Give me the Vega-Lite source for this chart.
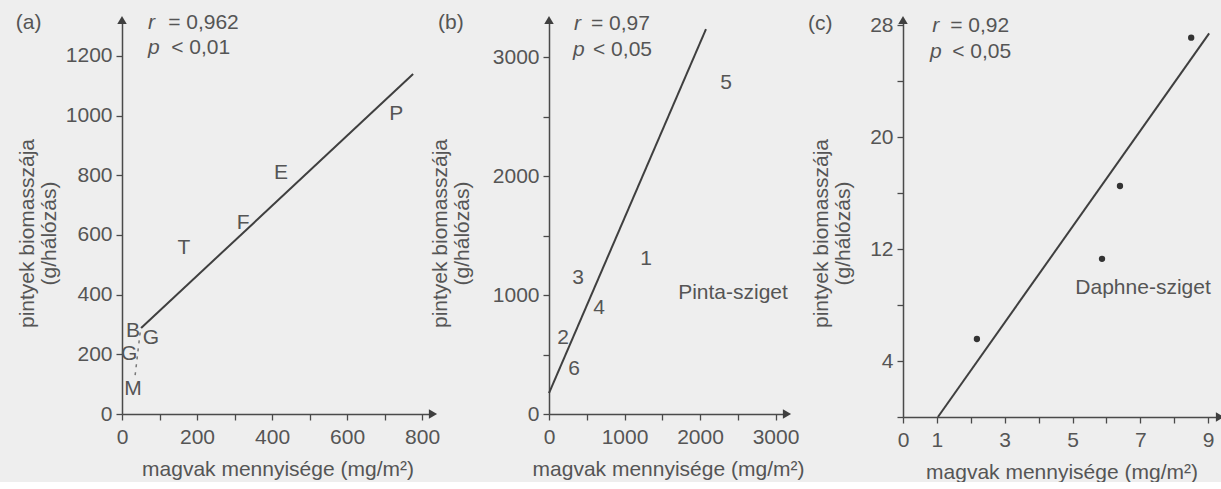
{
  "$schema": "https://vega.github.io/schema/vega-lite/v6.json",
  "background": "#eeeeee",
  "padding": {"left": 15, "top": 11, "right": 0, "bottom": 0},
  "bounds": "flush",
  "spacing": 116,
  "config": {
    "view": {"stroke": null},
    "font": "Liberation Sans",
    "axis": {
      "grid": false,
      "domainColor": "#4a4a4a",
      "domainWidth": 1.5,
      "tickColor": "#4a4a4a",
      "tickWidth": 1.3,
      "tickSize": 6,
      "labelFont": "Liberation Sans",
      "labelFontSize": 21,
      "labelColor": "#555555",
      "titleFont": "Liberation Sans",
      "titleFontSize": 21,
      "titleFontWeight": "normal",
      "titleColor": "#555555",
      "labelFlush": false,
      "labelOverlap": false
    },
    "axisX": {"labelPadding": 6, "titleBaseline": "alphabetic", "titleY": 61, "titleAnchor": "middle"},
    "axisY": {"labelPadding": 4, "titleAngle": -90, "titleAlign": "center", "titleBaseline": "bottom", "titleLineHeight": 22, "titleAnchor": "middle"},
    "text": {"font": "Liberation Sans", "fontSize": 21, "color": "#555555"}
  },
  "datasets": {
    "a_line": [{"x": 51, "y": 288}, {"x": 776, "y": 1139}],
    "a_dash": [{"x": 50, "y": 290}, {"x": 35, "y": 130}],
    "a_pts": [
      {"x": 29, "y": 278, "t": "B"}, {"x": 77, "y": 255, "t": "G"}, {"x": 19, "y": 201, "t": "G"},
      {"x": 29, "y": 84, "t": "M"}, {"x": 165, "y": 556, "t": "T"}, {"x": 323, "y": 640, "t": "F"},
      {"x": 424, "y": 807, "t": "E"}, {"x": 731, "y": 1005, "t": "P"}
    ],
    "a_notes": [{"x": -283, "y": 1310, "t": "(a)"}, {"x": 123, "y": 1310, "t": "= 0,962"}, {"x": 131, "y": 1226, "t": "< 0,01"}],
    "a_ital": [{"x": 69, "y": 1310, "t": "r"}, {"x": 69, "y": 1226, "t": "p"}],
    "a_up": [{"x": 0, "y": 1320}],
    "a_right": [{"x": 829, "y": 0}],
    "b_line": [{"x": 0, "y": 176}, {"x": 2079, "y": 3235}],
    "b_pts": [
      {"x": 2344, "y": 2782, "t": "5"}, {"x": 1285, "y": 1303, "t": "1"}, {"x": 384, "y": 1143, "t": "3"},
      {"x": 662, "y": 891, "t": "4"}, {"x": 185, "y": 639, "t": "2"}, {"x": 331, "y": 378, "t": "6"},
      {"x": 2437, "y": 1017, "t": "Pinta-sziget"}
    ],
    "b_notes": [{"x": -1470, "y": 3286, "t": "(b)"}, {"x": 556, "y": 3277, "t": "= 0,97"}, {"x": 583, "y": 3059, "t": "< 0,05"}],
    "b_ital": [{"x": 331, "y": 3277, "t": "r"}, {"x": 318, "y": 3059, "t": "p"}],
    "b_up": [{"x": 0, "y": 3311}],
    "b_right": [{"x": 3152, "y": 0}],
    "c_line": [{"x": 1.03, "y": 0}, {"x": 9.03, "y": 27.4}],
    "c_pts": [{"x": 8.5, "y": 27.1}, {"x": 6.4, "y": 16.5}, {"x": 5.87, "y": 11.3}, {"x": 2.18, "y": 5.57}],
    "c_lbl": [{"x": 7.08, "y": 9.2, "t": "Daphne-sziget"}],
    "c_notes": [{"x": -2.8, "y": 28.1, "t": "(c)"}, {"x": 1.39, "y": 27.9, "t": "= 0,92"}, {"x": 1.45, "y": 26.1, "t": "< 0,05"}],
    "c_ital": [{"x": 0.86, "y": 27.9, "t": "r"}, {"x": 0.80, "y": 26.1, "t": "p"}],
    "c_up": [{"x": 0, "y": 28.36}],
    "c_right": [{"x": 9.35, "y": 0}]
  },
  "hconcat": [
    {
      "width": 311,
      "height": 394,
      "encoding": {
        "x": {"field": "x", "type": "quantitative", "scale": {"domain": [0, 829], "nice": false, "zero": false},
          "axis": {"values": [0, 100, 200, 300, 400, 500, 600, 700, 800], "labelExpr": "datum.value % 200 == 0 ? datum.label : ''", "format": "d", "title": "magvak mennyisége (mg/m²)"}},
        "y": {"field": "y", "type": "quantitative", "scale": {"domain": [0, 1320], "nice": false, "zero": false},
          "axis": {"values": [0, 200, 400, 600, 800, 1000, 1200], "format": "d", "title": ["pintyek biomasszája", "(g/hálózás)"], "titleX": -85, "titleY": 213}}
      },
      "layer": [
        {"data": {"name": "a_line"}, "mark": {"type": "line", "color": "#3f3f3f", "strokeWidth": 2}, "encoding": {}},
        {"data": {"name": "a_dash"}, "mark": {"type": "line", "color": "#777777", "strokeWidth": 1.5, "strokeDash": [3, 5]}, "encoding": {}},
        {"data": {"name": "a_pts"}, "mark": {"type": "text", "align": "center", "baseline": "middle"}, "encoding": {"text": {"field": "t", "type": "nominal"}}},
        {"data": {"name": "a_notes"}, "mark": {"type": "text", "align": "left", "baseline": "middle"}, "encoding": {"text": {"field": "t", "type": "nominal"}}},
        {"data": {"name": "a_ital"}, "mark": {"type": "text", "align": "left", "baseline": "middle", "fontStyle": "italic"}, "encoding": {"text": {"field": "t", "type": "nominal"}}},
        {"data": {"name": "a_up"}, "mark": {"type": "point", "shape": "triangle-up", "filled": true, "size": 90, "color": "#3f3f3f", "opacity": 1}, "encoding": {}},
        {"data": {"name": "a_right"}, "mark": {"type": "point", "shape": "triangle-right", "filled": true, "size": 90, "color": "#3f3f3f", "opacity": 1}, "encoding": {}}
      ]
    },
    {
      "width": 238,
      "height": 394,
      "encoding": {
        "x": {"field": "x", "type": "quantitative", "scale": {"domain": [0, 3152], "nice": false, "zero": false},
          "axis": {"values": [0, 500, 1000, 1500, 2000, 2500, 3000], "labelExpr": "datum.value % 1000 == 0 ? datum.label : ''", "format": "d", "title": "magvak mennyisége (mg/m²)"}},
        "y": {"field": "y", "type": "quantitative", "scale": {"domain": [0, 3311], "nice": false, "zero": false},
          "axis": {"values": [0, 500, 1000, 1500, 2000, 2500, 3000], "labelExpr": "datum.value % 1000 == 0 ? datum.label : ''", "format": "d", "title": ["pintyek biomasszája", "(g/hálózás)"], "titleX": -99, "titleY": 213}}
      },
      "layer": [
        {"data": {"name": "b_line"}, "mark": {"type": "line", "color": "#3f3f3f", "strokeWidth": 2}, "encoding": {}},
        {"data": {"name": "b_pts"}, "mark": {"type": "text", "align": "center", "baseline": "middle"}, "encoding": {"text": {"field": "t", "type": "nominal"}}},
        {"data": {"name": "b_notes"}, "mark": {"type": "text", "align": "left", "baseline": "middle"}, "encoding": {"text": {"field": "t", "type": "nominal"}}},
        {"data": {"name": "b_ital"}, "mark": {"type": "text", "align": "left", "baseline": "middle", "fontStyle": "italic"}, "encoding": {"text": {"field": "t", "type": "nominal"}}},
        {"data": {"name": "b_up"}, "mark": {"type": "point", "shape": "triangle-up", "filled": true, "size": 90, "color": "#3f3f3f", "opacity": 1}, "encoding": {}},
        {"data": {"name": "b_right"}, "mark": {"type": "point", "shape": "triangle-right", "filled": true, "size": 90, "color": "#3f3f3f", "opacity": 1}, "encoding": {}}
      ]
    },
    {
      "width": 317,
      "height": 397,
      "encoding": {
        "x": {"field": "x", "type": "quantitative", "scale": {"domain": [0, 9.35], "nice": false, "zero": false},
          "axis": {"values": [0, 1, 2, 3, 4, 5, 6, 7, 8, 9], "labelExpr": "indexof([0, 1, 3, 5, 7, 9], datum.value) >= 0 ? datum.label : ''", "title": "magvak mennyisége (mg/m²)"}},
        "y": {"field": "y", "type": "quantitative", "scale": {"domain": [0, 28.36], "nice": false, "zero": false},
          "axis": {"values": [0, 4, 8, 12, 16, 20, 24, 28], "labelExpr": "indexof([4, 12, 20, 28], datum.value) >= 0 ? datum.label : ''", "title": ["pintyek biomasszája", "(g/hálózás)"], "titleX": -72, "titleY": 213}}
      },
      "layer": [
        {"data": {"name": "c_line"}, "mark": {"type": "line", "color": "#3f3f3f", "strokeWidth": 2}, "encoding": {}},
        {"data": {"name": "c_pts"}, "mark": {"type": "point", "shape": "circle", "filled": true, "size": 40, "color": "#333333", "opacity": 1}, "encoding": {}},
        {"data": {"name": "c_lbl"}, "mark": {"type": "text", "align": "center", "baseline": "middle"}, "encoding": {"text": {"field": "t", "type": "nominal"}}},
        {"data": {"name": "c_notes"}, "mark": {"type": "text", "align": "left", "baseline": "middle"}, "encoding": {"text": {"field": "t", "type": "nominal"}}},
        {"data": {"name": "c_ital"}, "mark": {"type": "text", "align": "left", "baseline": "middle", "fontStyle": "italic"}, "encoding": {"text": {"field": "t", "type": "nominal"}}},
        {"data": {"name": "c_up"}, "mark": {"type": "point", "shape": "triangle-up", "filled": true, "size": 90, "color": "#3f3f3f", "opacity": 1}, "encoding": {}},
        {"data": {"name": "c_right"}, "mark": {"type": "point", "shape": "triangle-right", "filled": true, "size": 90, "color": "#3f3f3f", "opacity": 1}, "encoding": {}}
      ]
    }
  ]
}
